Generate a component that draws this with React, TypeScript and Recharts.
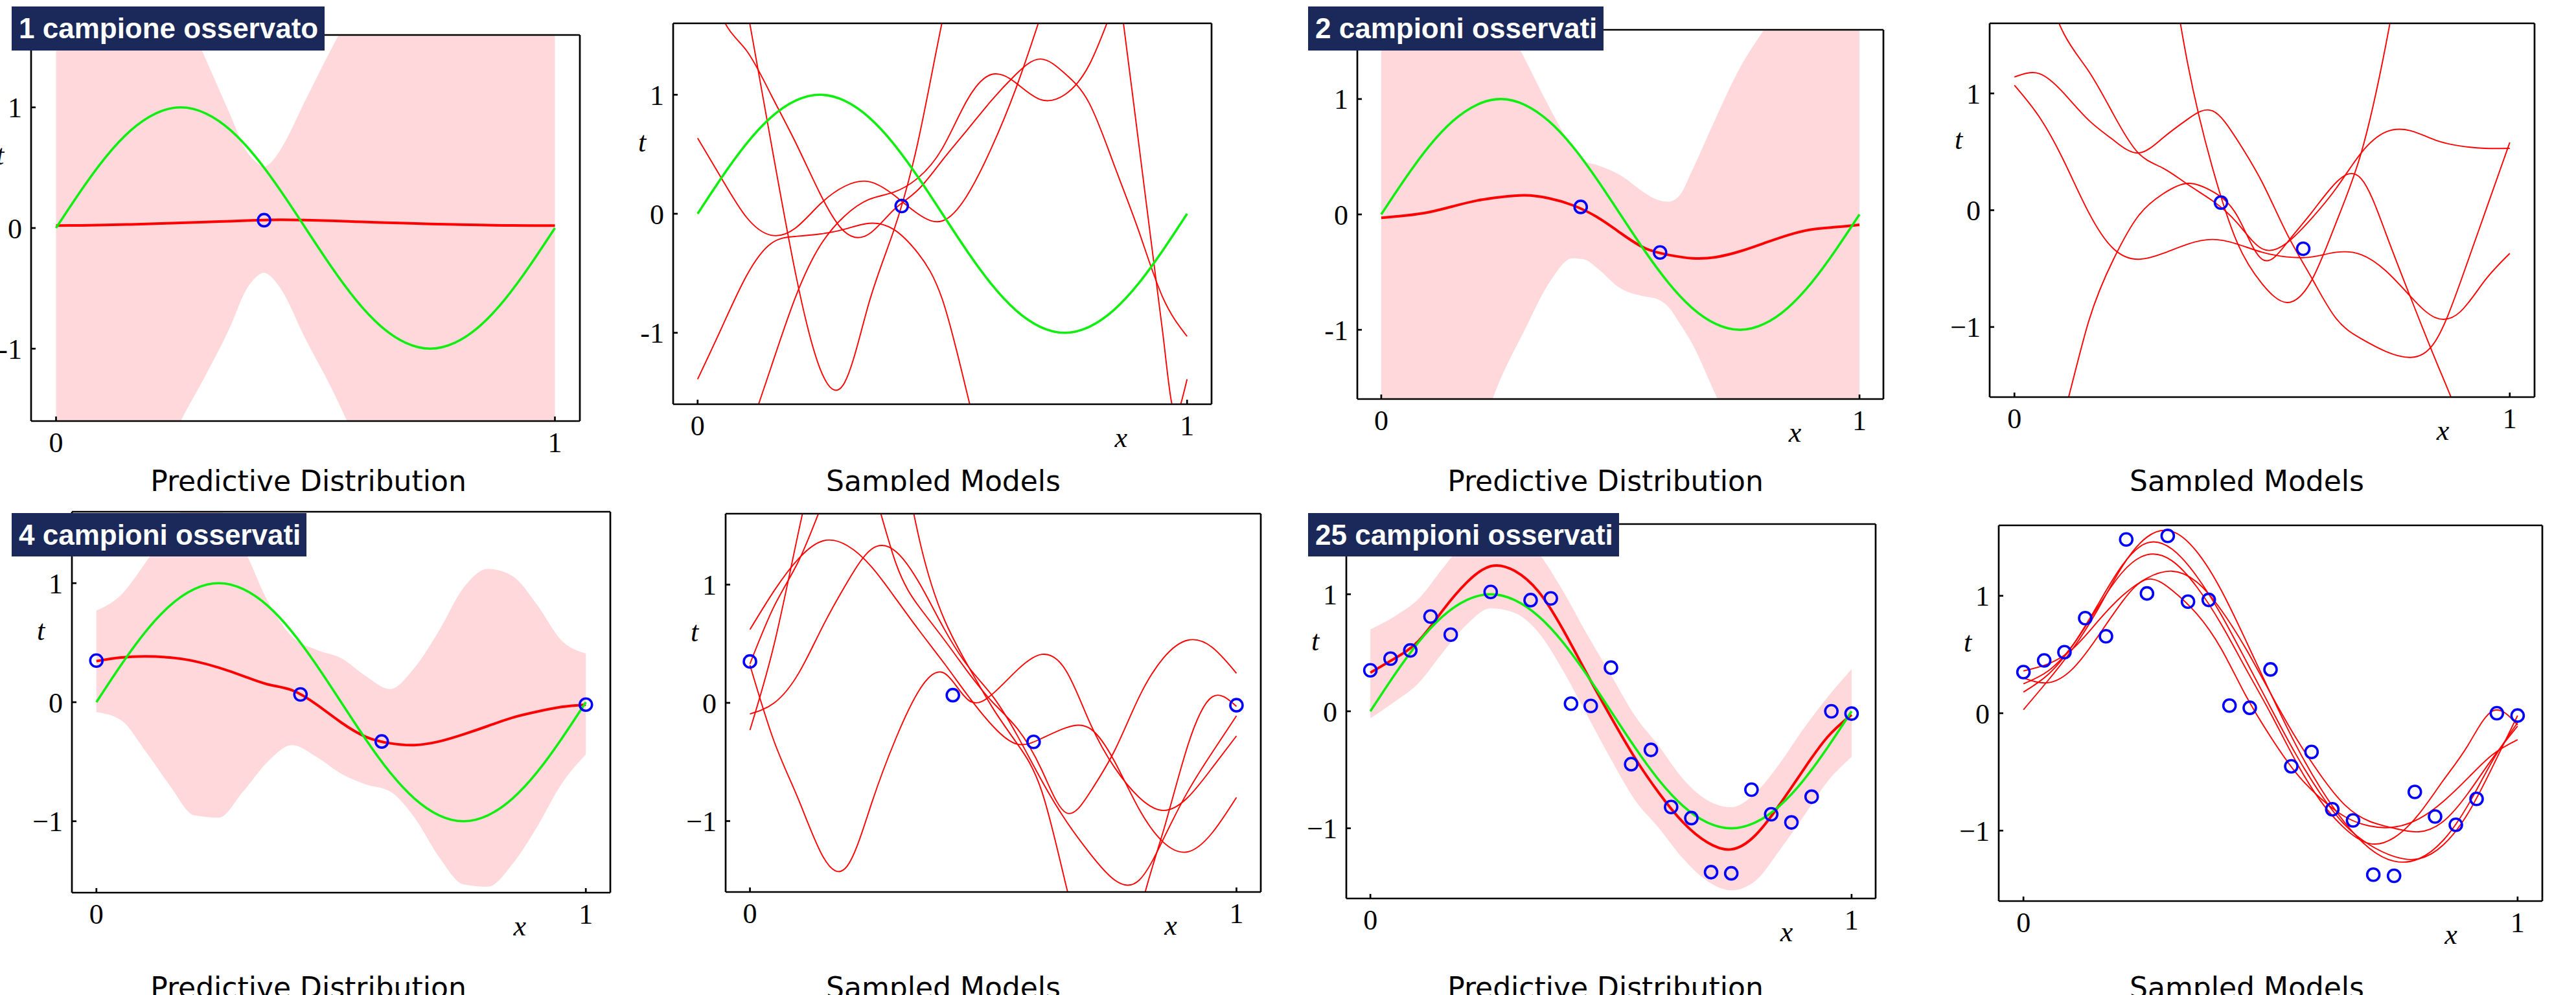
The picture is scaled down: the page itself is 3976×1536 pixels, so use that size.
import React from "react";
import { ComposedChart, XAxis, YAxis, Line, Area, Scatter } from "recharts";

// shared x grid for curves
const GRID = [0, 0.05, 0.1, 0.15, 0.2, 0.25, 0.3, 0.35, 0.4, 0.45, 0.5, 0.55, 0.6, 0.65, 0.7, 0.75, 0.8, 0.85, 0.9, 0.95, 1];

// green "true" curve
const TRUE_T = [0, 0.31, 0.59, 0.81, 0.95, 1, 0.95, 0.81, 0.59, 0.31, 0, -0.31, -0.59, -0.81, -0.95, -1, -0.95, -0.81, -0.59, -0.31, 0];

// the 25 observed samples
const OBS_X = [0, 0.042, 0.083, 0.125, 0.167, 0.208, 0.25, 0.292, 0.333, 0.375, 0.417, 0.458, 0.5, 0.542, 0.583, 0.625, 0.667, 0.708, 0.75, 0.792, 0.833, 0.875, 0.917, 0.958, 1];
const OBS_T = [0.35, 0.45, 0.52, 0.81, 0.655, 1.48, 1.02, 1.51, 0.95, 0.965, 0.065, 0.046, 0.373, -0.452, -0.33, -0.818, -0.913, -1.375, -1.385, -0.67, -0.88, -0.95, -0.73, 0.0, -0.02];

// panel 1: 1 sample, predictive
const P1_MEAN = [0.02, 0.022, 0.025, 0.03, 0.036, 0.043, 0.05, 0.057, 0.064, 0.069, 0.066, 0.06, 0.053, 0.046, 0.04, 0.034, 0.029, 0.025, 0.022, 0.02, 0.02];
const P1_BAND_X = [0, 0.1, 0.2, 0.25, 0.3, 0.35, 0.38, 0.4, 0.417, 0.43, 0.45, 0.5, 0.55, 0.6, 0.65, 0.7, 0.8, 0.9, 1];
const P1_HI = [2.6, 2.6, 2.25, 1.87, 1.4, 0.93, 0.65, 0.55, 0.51, 0.54, 0.65, 1.06, 1.47, 1.85, 2.15, 2.4, 2.6, 2.6, 2.6];
const P1_LO = [-2.5, -2.5, -2.05, -1.6, -1.22, -0.81, -0.52, -0.41, -0.37, -0.4, -0.5, -0.92, -1.31, -1.74, -2.1, -2.3, -2.5, -2.5, -2.5];

// panel 2: 1 sample, sampled models
const P2_A = [0.635, 0.29, -0.03, -0.18, -0.12, 0.08, 0.23, 0.27, 0.16, 0.0, -0.06, 0.15, 0.55, 1.05, 1.65, 2.3, 3.0, 3.6, 4.0, 4.3, 4.5];
const P2_B = [-1.39, -0.95, -0.52, -0.25, -0.19, -0.17, -0.13, -0.08, -0.13, -0.33, -0.72, -1.5, -2.3, -3.0, -3.5, -3.8, -4, -4, -4, -4, -4];
const P2_C = [4.0, 2.9, 1.75, 0.6, -0.5, -1.3, -1.42, -0.75, -0.15, 0.6, 1.62, 2.5, 3.3, 4, 4.5, 4.8, 5, 5, 5, 5, 5];
const P2_D = [2.3, 1.65, 1.37, 1.0, 0.6, 0.17, -0.15, -0.17, 0.03, 0.2, 0.45, 0.7, 0.95, 1.17, 1.3, 1.18, 0.93, 0.42, -0.13, -0.7, -1.03];
const P2_E = [-3.0, -2.5, -1.9, -1.29, -0.7, -0.27, -0.02, 0.12, 0.18, 0.3, 0.55, 0.95, 1.17, 1.1, 0.96, 1.0, 1.25, 1.75, 2.3, 2.9, 3.5];
const P2_F_X = [0.8, 0.85, 0.87, 0.9, 0.95, 0.969, 0.978, 0.987, 1];
const P2_F = [3.6, 2.2, 1.6, 0.63, -0.99, -1.6, -1.72, -1.6, -1.39];

// panel 3: 2 samples, predictive
const P3_MEAN = [-0.03, -0.01, 0.02, 0.07, 0.12, 0.15, 0.165, 0.14, 0.08, -0.02, -0.16, -0.29, -0.35, -0.38, -0.37, -0.32, -0.25, -0.18, -0.13, -0.11, -0.09];
const P3_BAND_X = [0, 0.1, 0.2, 0.25, 0.3, 0.35, 0.4, 0.425, 0.45, 0.5, 0.55, 0.575, 0.6, 0.625, 0.65, 0.7, 0.75, 0.8, 0.9, 1];
const P3_HI = [2.6, 2.6, 2.2, 1.75, 1.35, 0.94, 0.58, 0.46, 0.43, 0.34, 0.19, 0.13, 0.11, 0.17, 0.38, 0.84, 1.27, 1.6, 2.2, 2.4];
const P3_LO = [-2.6, -2.5, -1.95, -1.42, -1.0, -0.6, -0.38, -0.39, -0.46, -0.64, -0.71, -0.73, -0.8, -0.95, -1.12, -1.57, -2.0, -2.3, -2.5, -2.6];

// panel 4: 2 samples, sampled models
const P4_A = [1.14, 1.17, 1.0, 0.77, 0.6, 0.49, 0.62, 0.78, 0.85, 0.6, 0.24, -0.2, -0.58, -0.93, -1.1, -1.21, -1.26, -1.12, -0.62, -0.02, 0.58];
const P4_B = [1.07, 0.8, 0.42, -0.02, -0.33, -0.42, -0.37, -0.29, -0.25, -0.29, -0.36, -0.4, -0.4, -0.36, -0.38, -0.52, -0.74, -0.92, -0.87, -0.6, -0.37];
const P4_C = [2.4, 2.0, 1.51, 1.19, 0.82, 0.49, 0.36, 0.22, 0.08, -0.11, -0.33, -0.28, -0.07, 0.19, 0.49, 0.67, 0.68, 0.6, 0.55, 0.53, 0.53];
const P4_D = [-3.0, -2.4, -1.75, -0.95, -0.42, -0.05, 0.14, 0.23, 0.16, -0.05, -0.42, -0.28, -0.02, 0.24, 0.27, -0.2, -0.75, -1.28, -1.8, -2.4, -3.0];
const P4_E_X = [0.25, 0.3, 0.35, 0.4, 0.45, 0.5, 0.55, 0.6, 0.65, 0.7, 0.75, 0.8];
const P4_E = [3.8, 2.5, 1.25, 0.36, -0.28, -0.63, -0.79, -0.6, -0.1, 0.49, 1.42, 2.6];

// panel 5: 4 samples, predictive
const P5_MEAN = [0.345, 0.375, 0.385, 0.375, 0.345, 0.29, 0.22, 0.15, 0.1, -0.02, -0.17, -0.29, -0.345, -0.36, -0.33, -0.27, -0.2, -0.13, -0.08, -0.04, -0.02];
const P5_HI = [0.77, 0.9, 1.17, 1.48, 1.68, 1.62, 1.3, 0.85, 0.55, 0.44, 0.37, 0.22, 0.11, 0.29, 0.6, 0.96, 1.12, 1.06, 0.82, 0.52, 0.41];
const P5_LO = [-0.083, -0.15, -0.41, -0.7, -0.95, -0.97, -0.75, -0.5, -0.36, -0.46, -0.6, -0.69, -0.75, -0.97, -1.3, -1.53, -1.55, -1.36, -1.05, -0.69, -0.44];

// panel 6: 4 samples, sampled models
const P6_A = [0.62, 0.95, 1.22, 1.37, 1.33, 1.15, 0.88, 0.6, 0.33, 0.05, -0.2, -0.35, -0.3, -0.21, -0.22, -0.5, -0.9, -1.18, -1.26, -1.1, -0.8];
const P6_B = [0.32, -0.33, -0.82, -1.3, -1.38, -0.85, -0.3, 0.12, 0.25, 0.02, 0.08, 0.28, 0.41, 0.27, -0.18, -0.55, -0.8, -0.91, -0.8, -0.55, -0.28];
const P6_C = [-0.094, 0.0, 0.25, 0.65, 1.02, 1.3, 1.28, 1.0, 0.62, 0.3, 0.05, -0.28, -0.66, -1.0, -1.28, -1.5, -1.5, -1.15, -0.75, -0.42, -0.11];
const P6_D = [-0.23, 0.5, 1.45, 2.3, 2.8, 2.8, 2.3, 1.35, 0.7, 0.3, -0.05, -0.35, -0.75, -1.55, -2.3, -2.6, -1.8, -1.08, -0.36, 0.05, -0.03];
const P6_E = [0.33, 0.82, 1.2, 1.7, 2.1, 1.85, 1.18, 0.8, 0.53, 0.25, 0.0, -0.22, -0.57, -0.93, -0.75, -0.4, 0.05, 0.38, 0.53, 0.47, 0.25];

// panel 7: 25 samples, predictive
const P7_MEAN = [0.33, 0.45, 0.6, 0.86, 1.1, 1.24, 1.2, 1.02, 0.7, 0.32, -0.05, -0.4, -0.7, -0.95, -1.12, -1.18, -1.06, -0.8, -0.5, -0.22, -0.03];
const P7_HI = [0.7, 0.81, 0.96, 1.22, 1.46, 1.6, 1.56, 1.35, 1.03, 0.66, 0.31, -0.04, -0.3, -0.58, -0.76, -0.82, -0.7, -0.45, -0.15, 0.12, 0.36];
const P7_LO = [-0.06, 0.08, 0.24, 0.5, 0.74, 0.88, 0.84, 0.67, 0.35, -0.03, -0.41, -0.76, -1.0, -1.26, -1.45, -1.53, -1.45, -1.19, -0.9, -0.6, -0.39];

// panel 8: 25 samples, sampled models
const P8_A = [0.03, 0.28, 0.55, 0.88, 1.25, 1.5, 1.55, 1.38, 1.05, 0.62, 0.17, -0.26, -0.63, -0.93, -1.15, -1.26, -1.24, -1.08, -0.78, -0.4, -0.08];
const P8_B = [0.18, 0.33, 0.58, 0.92, 1.26, 1.45, 1.4, 1.17, 0.84, 0.45, 0.05, -0.34, -0.68, -0.95, -1.12, -1.22, -1.24, -1.12, -0.85, -0.45, -0.02];
const P8_C = [0.25, 0.36, 0.58, 0.9, 1.2, 1.35, 1.3, 1.08, 0.76, 0.38, 0.0, -0.4, -0.74, -0.98, -1.11, -1.06, -0.86, -0.57, -0.27, 0.02, -0.1];
const P8_D = [0.36, 0.42, 0.55, 0.78, 1.0, 1.15, 1.21, 1.12, 0.88, 0.55, 0.17, -0.2, -0.52, -0.78, -0.92, -0.98, -1.01, -0.92, -0.68, -0.38, -0.11];
const P8_E = [0.3, 0.26, 0.38, 0.65, 0.95, 1.14, 1.05, 0.85, 0.55, 0.15, -0.2, -0.5, -0.72, -0.88, -0.96, -0.97, -0.9, -0.75, -0.55, -0.35, -0.225];

const zip = (xs: number[], ys: number[]) => xs.map((x, i) => ({ x, y: ys[i] }));
const band = (xs: number[], lo: number[], hi: number[]) => xs.map((x, i) => ({ x, r: [lo[i], hi[i]] }));
const pick = (idx: number[]) => idx.map((i) => ({ x: OBS_X[i], y: OBS_T[i] }));
const ALL = OBS_X.map((_, i) => i);

const PINK = "#ffd8db";
const RED = "#ff0000";
const GREEN = "#10ee10";
const BLUE = "#0000ff";
const NAVY = "#1a2959";
const SERIF = "'Liberation Serif', 'DejaVu Serif', serif";

type Sample = { pts: { x: number; y: number }[]; curve?: "natural" | "monotone" };
type Panel = {
  box: number[];
  band?: { x: number; r: number[] }[];
  mean?: number[];
  truth: boolean;
  samples: Sample[];
  obs: number[];
  minus: string;
  tLabel: boolean;
  xLabel: boolean;
};

const s = (ys: number[]): Sample => ({ pts: zip(GRID, ys) });

const PANELS: Panel[] = [
  { box: [48, 54, 847, 596], band: band(P1_BAND_X, P1_LO, P1_HI), mean: P1_MEAN, truth: true, samples: [], obs: [10], minus: "-", tLabel: true, xLabel: false },
  { box: [1039, 36, 831, 588], truth: true, samples: [s(P2_A), s(P2_B), s(P2_C), s(P2_D), s(P2_E), { pts: zip(P2_F_X, P2_F), curve: "monotone" }], obs: [10], minus: "-", tLabel: true, xLabel: true },
  { box: [2095, 46, 812, 570], band: band(P3_BAND_X, P3_LO, P3_HI), mean: P3_MEAN, truth: true, samples: [], obs: [10, 14], minus: "-", tLabel: false, xLabel: true },
  { box: [3071, 36, 841, 577], truth: false, samples: [s(P4_A), s(P4_B), s(P4_C), s(P4_D), { pts: zip(P4_E_X, P4_E) }], obs: [10, 14], minus: "\u2212", tLabel: true, xLabel: true },
  { box: [111, 790, 831, 588], band: band(GRID, P5_LO, P5_HI), mean: P5_MEAN, truth: true, samples: [], obs: [0, 10, 14, 24], minus: "\u2212", tLabel: true, xLabel: true },
  { box: [1120, 793, 826, 584], truth: false, samples: [s(P6_A), s(P6_B), s(P6_C), s(P6_D), s(P6_E)], obs: [0, 10, 14, 24], minus: "\u2212", tLabel: true, xLabel: true },
  { box: [2078, 809, 817, 578], band: band(GRID, P7_LO, P7_HI), mean: P7_MEAN, truth: true, samples: [], obs: ALL, minus: "\u2212", tLabel: true, xLabel: true },
  { box: [3085, 811, 839, 580], truth: false, samples: [s(P8_A), s(P8_B), s(P8_C), s(P8_D), s(P8_E)], obs: ALL, minus: "\u2212", tLabel: true, xLabel: true },
];

const TAGS = [
  { text: "1 campione osservato", left: 18, top: 10, width: 483, height: 68 },
  { text: "2 campioni osservati", left: 2019, top: 10, width: 456, height: 68 },
  { text: "4 campioni osservati", left: 18, top: 792, width: 455, height: 67 },
  { text: "25 campioni osservati", left: 2019, top: 792, width: 480, height: 67 },
];

const CAPTIONS = [
  { text: "Predictive Distribution", cx: 476 },
  { text: "Sampled Models", cx: 1456 },
  { text: "Predictive Distribution", cx: 2478 },
  { text: "Sampled Models", cx: 3468 },
];

const PAD_L = 110;
const PAD_R = 20;
const PAD_T = 20;
const PAD_B = 90;
const X_DOMAIN = [-0.05, 1.05];
const Y_DOMAIN = [-1.6, 1.6];
const AX = { stroke: "#000", strokeWidth: 2.7 };

const Ring = (props: any) => {
  const { cx, cy } = props;
  if (cx == null || cy == null) return <g />;
  return <circle cx={cx} cy={cy} r={9.5} fill="none" stroke={BLUE} strokeWidth={3.6} />;
};

const PanelChart = ({ p }: { p: Panel }) => {
  const [L, T, W, H] = p.box;
  const tickFont = { fontSize: 44, fill: "#000", fontFamily: SERIF };
  const fmt = (v: number) => (v < 0 ? p.minus + Math.abs(v) : String(v));
  const labelStyle: React.CSSProperties = {
    position: "absolute",
    fontFamily: SERIF,
    fontStyle: "italic",
    fontSize: 44,
    lineHeight: "44px",
    transform: "translate(-50%, -50%)",
  };
  return (
    <div style={{ position: "absolute", left: L - PAD_L, top: T - PAD_T }}>
      <ComposedChart
        width={W + PAD_L + PAD_R}
        height={H + PAD_T + PAD_B}
        margin={{ left: PAD_L - 1, right: PAD_R - 1, top: PAD_T - 1, bottom: PAD_B - 1 }}
      >
        <XAxis type="number" dataKey="x" domain={X_DOMAIN} ticks={[0, 1]} interval={0} allowDataOverflow height={1}
          tickSize={-7} tickMargin={24} tick={tickFont} tickFormatter={fmt} axisLine={AX} tickLine={AX} />
        <XAxis xAxisId="top" orientation="top" type="number" dataKey="x" domain={X_DOMAIN} ticks={[0, 1]} interval={0}
          allowDataOverflow height={1} tickSize={-7} tick={false} axisLine={AX} tickLine={AX} />
        <YAxis type="number" domain={Y_DOMAIN} ticks={[-1, 0, 1]} interval={0} allowDataOverflow width={1}
          tickSize={-7} tickMargin={21} tick={tickFont} tickFormatter={fmt} axisLine={AX} tickLine={AX} />
        <YAxis yAxisId="right" orientation="right" type="number" domain={Y_DOMAIN} ticks={[-1, 0, 1]} interval={0}
          allowDataOverflow width={1} tickSize={-7} tick={false} axisLine={AX} tickLine={AX} />
        {p.band && (
          <Area data={p.band} dataKey="r" type="monotone" fill={PINK} fillOpacity={1} stroke="none" isAnimationActive={false} />
        )}
        {p.samples.map((smp, i) => (
          <Line key={"s" + i} data={smp.pts} dataKey="y" type={smp.curve || "natural"} stroke={RED} strokeWidth={1.9}
            dot={false} isAnimationActive={false} />
        ))}
        {p.mean && (
          <Line data={zip(GRID, p.mean)} dataKey="y" type="natural" stroke={RED} strokeWidth={4} dot={false} isAnimationActive={false} />
        )}
        {p.truth && (
          <Line data={zip(GRID, TRUE_T)} dataKey="y" type="natural" stroke={GREEN} strokeWidth={3.6} dot={false} isAnimationActive={false} />
        )}
        <Scatter data={pick(p.obs)} dataKey="y" shape={Ring} isAnimationActive={false} />
      </ComposedChart>
      {p.tLabel && <div style={{ ...labelStyle, left: PAD_L - 48, top: PAD_T + H / 3.2 }}>t</div>}
      {p.xLabel && <div style={{ ...labelStyle, left: PAD_L + (W * 0.915) / 1.1, top: PAD_T + H + 52 }}>x</div>}
    </div>
  );
};

const captionStyle = (cx: number, top: number): React.CSSProperties => ({
  position: "absolute",
  left: cx,
  top,
  transform: "translateX(-50%)",
  fontFamily: "'DejaVu Sans', sans-serif",
  fontSize: 44,
  lineHeight: "44px",
  whiteSpace: "nowrap",
  color: "#000",
});

export default function App() {
  return (
    <div style={{ position: "absolute", left: 0, top: 0, width: 3976, height: 1536, overflow: "hidden", background: "#fff" }}>
      {PANELS.map((p, i) => (
        <PanelChart key={i} p={p} />
      ))}
      <div style={{ position: "absolute", left: 0, top: 0, width: 3976, height: 758, overflow: "hidden" }}>
        {CAPTIONS.map((c, i) => (
          <div key={i} style={captionStyle(c.cx, 721)}>
            {c.text}
          </div>
        ))}
      </div>
      {CAPTIONS.map((c, i) => (
        <div key={"b" + i} style={captionStyle(c.cx, 1503)}>
          {c.text}
        </div>
      ))}
      {TAGS.map((t, i) => (
        <div
          key={"t" + i}
          style={{
            position: "absolute",
            left: t.left,
            top: t.top,
            width: t.width,
            height: t.height,
            background: NAVY,
            color: "#fff",
            fontFamily: "'Liberation Sans', Arial, sans-serif",
            fontWeight: "bold",
            fontSize: 44,
            lineHeight: t.height + "px",
            paddingLeft: 11,
            boxSizing: "border-box",
            whiteSpace: "nowrap",
          }}
        >
          {t.text}
        </div>
      ))}
    </div>
  );
}
